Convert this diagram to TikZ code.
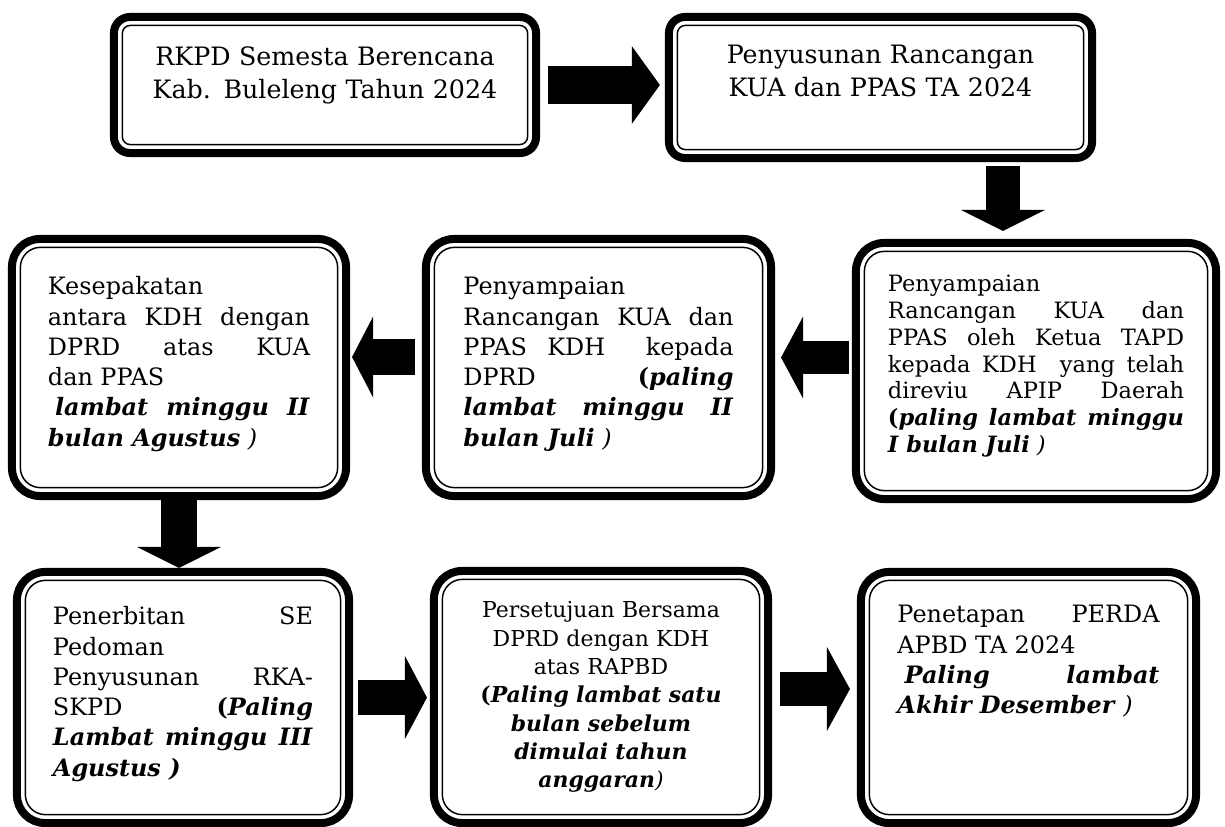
\documentclass[tikz,border=0pt]{standalone}
\usepackage{fontspec}
\setmainfont{DejaVu Serif}
\usepackage{tikz}
\usetikzlibrary{arrows.meta,positioning,calc}
\newcommand{\tenggat}[1]{\textbf{\textit{#1}}}
\tikzset{
  % base box: thick outer frame
  box/.style={
    draw=black,
    line width=0.2cm,
    rounded corners=0.7cm,
    inner sep=0pt,
    outer sep=0pt,
    align=justify,
    font=\fontsize{17pt}{21.5pt}\selectfont
  },
  % top row boxes
  topbox/.style={box, rounded corners=0.4cm, align=center,
    font=\fontsize{18pt}{22.8pt}\selectfont},
  % thin inner frame
  innerframe/.style={draw=black, line width=1.05pt},
  % block arrows
  blockarr/.style={
    draw=black,
    line width=0.875cm,
    -{Triangle[length=0.55cm, width=2.05cm]}
  },
}

\begin{document}
\begin{tikzpicture}[x=0.025cm, y=-0.025cm]
  \useasboundingbox (0,0) rectangle (1225,827);

  % Top row
  \node (rkpd) [topbox, minimum width=10.55cm, text width=9.8cm,
    text height=1.225cm, text depth=2.175cm] at (325,85)
    {RKPD Semesta Berencana\\Kab. Buleleng Tahun 2024};
  \node (penyusunan) [topbox, minimum width=10.575cm, text width=9.8cm,
    text height=1.175cm, text depth=2.35cm] at (880.5,87.5)
    {Penyusunan Rancangan\\KUA dan PPAS TA 2024};

  % Middle row
  \node (tapd) [box, font=\fontsize{16pt}{19pt}\selectfont,
    minimum width=9cm, text width=7.4cm,
    text height=1.225cm, text depth=5.175cm] at (1036,371)
    {Penyampaian\newline
     Rancangan KUA dan\linebreak
     PPAS oleh Ketua TAPD\linebreak
     kepada KDH\ \ yang telah\linebreak
     direviu APIP Daerah\linebreak
     \textbf{(}\tenggat{paling lambat minggu}\linebreak
     \tenggat{I bulan Juli} \textit{)}};
  \node (penyampaian) [box, minimum width=8.625cm, text width=6.75cm,
    text height=1.4cm, text depth=5.025cm] at (598.5,367.5)
    {Penyampaian\newline
     Rancangan KUA dan\linebreak
     PPAS KDH\ \ kepada\linebreak
     DPRD \textbf{(}\tenggat{paling}\linebreak
     \tenggat{lambat minggu II}\linebreak
     \tenggat{bulan Juli} \textit{)}};
  \node (kesepakatan) [box, minimum width=8.35cm, text width=6.55cm,
    text height=1.4cm, text depth=5.025cm] at (179,367.5)
    {Kesepakatan\newline
     antara KDH dengan\linebreak
     DPRD atas KUA\linebreak
     dan PPAS\newline
     \hspace*{0.3em}\tenggat{lambat minggu II}\linebreak
     \tenggat{bulan Agustus} \textit{)}};

  % Bottom row
  \node (penerbitan) [box, minimum width=8.3cm, text width=6.5cm,
    text height=1.325cm, text depth=4.95cm] at (183,697.5)
    {Penerbitan SE\linebreak
     Pedoman\newline
     Penyusunan RKA-\linebreak
     SKPD \textbf{(}\tenggat{Paling}\linebreak
     \tenggat{Lambat minggu III}\linebreak
     \tenggat{Agustus )}};
  \node (persetujuan) [box, align=center, font=\fontsize{15.6pt}{20.1pt}\selectfont,
    minimum width=8.35cm, text width=7.2cm,
    text height=1.175cm, text depth=5.125cm] at (601,697)
    {Persetujuan Bersama\\DPRD dengan KDH\\atas RAPBD\\
     \textbf{(}\tenggat{Paling lambat satu}\\\tenggat{bulan sebelum}\\
     \tenggat{dimulai tahun}\\\tenggat{anggaran}\textit{)}};
  \node (penetapan) [box, minimum width=8.375cm, text width=6.55cm,
    text height=1.275cm, text depth=5cm] at (1028.5,697.5)
    {Penetapan PERDA\linebreak
     APBD TA 2024\newline
     \hspace*{0.3em}\tenggat{Paling lambat}\linebreak
     \tenggat{Akhir Desember} \textit{)}};

  % Inner frames
  \foreach \n/\rad in {rkpd/0.2cm, penyusunan/0.2cm, tapd/0.5cm,
      penyampaian/0.5cm, kesepakatan/0.5cm, penerbitan/0.5cm,
      persetujuan/0.5cm, penetapan/0.5cm}
    \draw[innerframe, rounded corners=\rad]
      ($(\n.north west)+(0.21cm,-0.21cm)$) rectangle
      ($(\n.south east)+(-0.21cm,0.21cm)$);

  % Arrows
  \draw[blockarr, line width=0.925cm, -{Triangle[length=0.7cm, width=1.9cm]},
    shorten <=0.3cm, shorten >=0.225cm]
    (rkpd.east) -- (rkpd.east -| penyusunan.west);
  \draw[blockarr, line width=0.85cm, -{Triangle[length=0.525cm, width=2.075cm]},
    shorten <=0.2cm, shorten >=0.3cm]
    ($(tapd.north |- penyusunan.south)+(-0.825cm,0)$) -- ($(tapd.north)+(-0.825cm,0)$);
  \draw[blockarr, line width=0.825cm, -{Triangle[length=0.55cm, width=2.025cm]},
    shorten <=0.175cm, shorten >=0.25cm]
    ($(tapd.west)+(0,0.3375cm)$) -- ($(tapd.west -| penyampaian.east)+(0,0.3375cm)$);
  \draw[blockarr, line width=0.875cm, -{Triangle[length=0.525cm, width=2cm]},
    shorten <=0.275cm, shorten >=0.15cm]
    ($(penyampaian.west)+(0,0.2625cm)$) -- ($(penyampaian.west -| kesepakatan.east)+(0,0.2625cm)$);
  \draw[blockarr, line width=0.9cm, -{Triangle[length=0.525cm, width=2.075cm]},
    shorten <=0.1cm, shorten >=0.1cm]
    (kesepakatan.south) -- (kesepakatan.south |- penerbitan.north);
  \draw[blockarr, shorten <=0.225cm, shorten >=0.175cm]
    (penerbitan.east) -- (penerbitan.east -| persetujuan.west);
  \draw[blockarr, line width=0.85cm, -{Triangle[length=0.575cm, width=2.075cm]},
    shorten <=0.3cm, shorten >=0.275cm]
    ($(persetujuan.east)+(0,0.2cm)$) -- ($(persetujuan.east -| penetapan.west)+(0,0.2cm)$);
\end{tikzpicture}
\end{document}
